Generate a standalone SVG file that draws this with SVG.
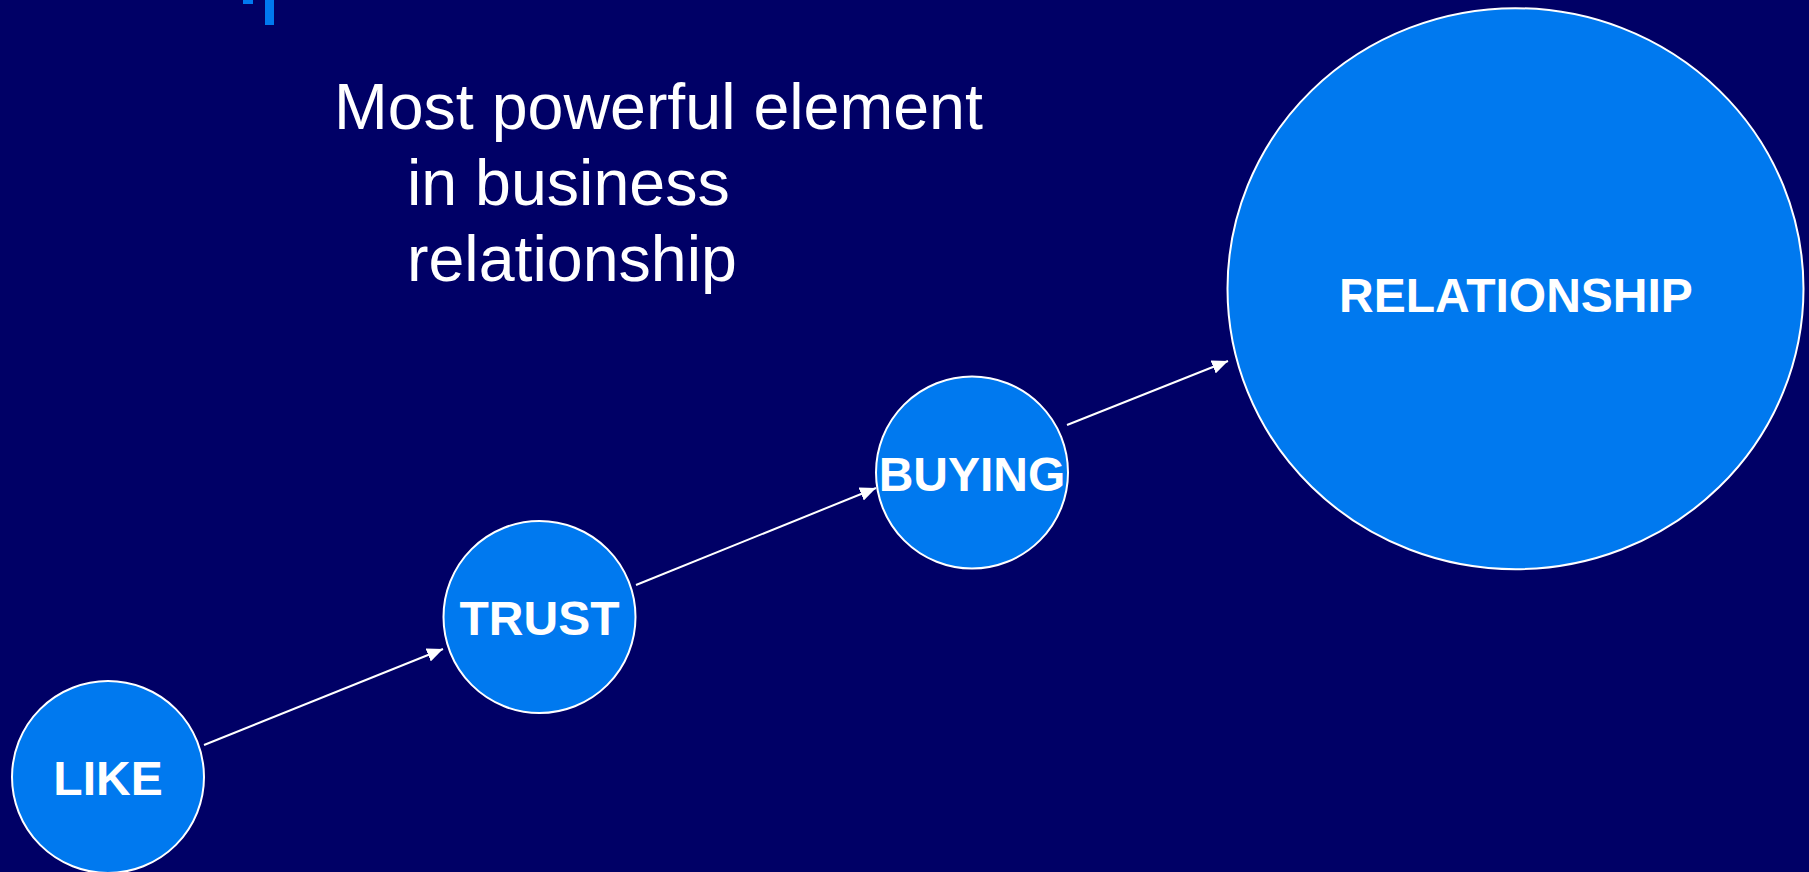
<svg xmlns="http://www.w3.org/2000/svg" width="1809" height="872" viewBox="0 0 1809 872">
  <style>
    .node { fill: #0079EF; stroke: #FFFFFF; stroke-width: 2; }
    .label { fill: #FFFFFF; font-family: "Liberation Sans", Arial, sans-serif; font-weight: bold; font-size: 48px; text-anchor: middle; }
    .title { fill: #FFFFFF; font-family: "Liberation Sans", Arial, sans-serif; font-size: 64.5px; }
    .link { stroke: #FFFFFF; stroke-width: 2; fill: none; marker-end: url(#arrow); }
    .accent { fill: #0079EF; }
  </style>
  <defs>
    <marker id="arrow" markerUnits="userSpaceOnUse" markerWidth="18" markerHeight="14" refX="16" refY="7" orient="auto">
      <path d="M0,0 L16,7 L0,14 Z" fill="#FFFFFF"/>
    </marker>
  </defs>

  <!-- background -->
  <rect x="0" y="0" width="1809" height="872" fill="#000066"/>

  <!-- small accent bars at the top edge -->
  <rect class="accent" x="243" y="0" width="10" height="4"/>
  <rect class="accent" x="265" y="0" width="9" height="25"/>

  <!-- heading -->
  <g id="heading">
    <text class="title" x="334" y="129">Most powerful element</text>
    <text class="title" x="407" y="205">in business</text>
    <text class="title" x="407" y="281">relationship</text>
  </g>

  <!-- connectors -->
  <g id="connectors">
    <line class="link" x1="204" y1="745" x2="443" y2="649"/>
    <line class="link" x1="636" y1="585" x2="876" y2="488"/>
    <line class="link" x1="1067" y1="425" x2="1228" y2="361"/>
  </g>

  <!-- nodes -->
  <g id="node-like">
    <circle class="node" cx="108" cy="777" r="96"/>
    <text class="label" x="108" y="795">LIKE</text>
  </g>
  <g id="node-trust">
    <circle class="node" cx="539.5" cy="617" r="96"/>
    <text class="label" x="539.5" y="635">TRUST</text>
  </g>
  <g id="node-buying">
    <circle class="node" cx="972" cy="472.5" r="96"/>
    <text class="label" x="972" y="491">BUYING</text>
  </g>
  <g id="node-relationship">
    <ellipse class="node" cx="1515.5" cy="288.7" rx="288" ry="280.5"/>
    <text class="label" x="1516" y="312">RELATIONSHIP</text>
  </g>
</svg>
